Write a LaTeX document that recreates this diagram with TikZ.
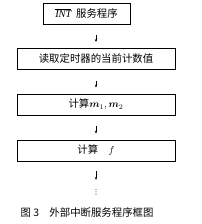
\documentclass[tikz,border=0pt]{standalone}
\usepackage{amsmath,amssymb,bm}
\usepackage{fontspec}
\setmainfont{Liberation Serif}
\newfontfamily\cjk{Noto Sans CJK SC}
\newfontfamily\dejavu{DejaVu Sans}
\usetikzlibrary{positioning,arrows.meta}

\begin{document}
\begin{tikzpicture}[x=1pt, y=-1pt,
  stepbox/.style={draw, line width=0.7pt, minimum height=21pt,
                  inner sep=0pt, font=\cjk\fontsize{10.4}{12}\selectfont},
  arr/.style={-{Stealth[length=3pt,width=2.2pt]}, line width=0.45pt},
]
\useasboundingbox (0,0) rectangle (201,224);

\node[stepbox, minimum width=87pt] (b1) at (86.5,13.5)
  {$\overline{\mathit{INT}}$\ \ 服务程序};
\node[stepbox, minimum width=158pt] (b2) at (96,59) {读取定时器的当前计数值};
\node[stepbox, minimum width=158pt] (b3) at (96,104.5)
  {计算$\bm{m}_1,\bm{m}_2$};
\node[stepbox, minimum width=158pt] (b4) at (96,150.5)
  {计算\quad $f$};

\node[inner sep=0pt, font=\dejavu\fontsize{7}{8}\selectfont] (dots) at (96,192) {⋮};
\node[inner sep=0pt, font=\cjk\fontsize{10.4}{12}\selectfont] (cap) at (87,213)
  {图 3\quad 外部中断服务程序框图};

\draw[arr, shorten <=11pt, shorten >=6pt] (b1.south -| b2.north) -- (b2.north);
\draw[arr, shorten <=11pt, shorten >=6pt] (b2) -- (b3);
\draw[arr, shorten <=11pt, shorten >=6pt] (b3) -- (b4);
\draw[arr, shorten <=10pt, shorten >=9pt] (b4) -- (dots);

\end{tikzpicture}
\end{document}
